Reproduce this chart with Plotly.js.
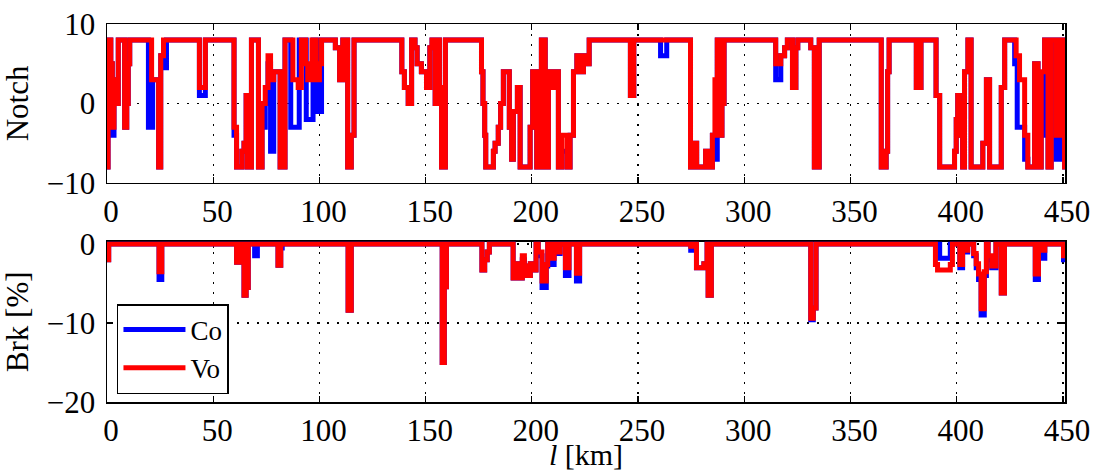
<!DOCTYPE html>
<html>
<head>
<meta charset="utf-8">
<script src="https://cdn.plot.ly/plotly-3.0.1.min.js"></script>
<style>html,body{margin:0;padding:0;background:#fff;}#chart{width:1093px;height:471px;}</style>
</head>
<body>
<div id="chart"></div>
<script>
// ---- Data ----
const seriesNames = ["Co", "Vo"];
const xTicks = [0, 50, 100, 150, 200, 250, 300, 350, 400, 450];

// Notch, Vo (change points, km / notch)
const voNotchKm = [0,0.5,1.8,2.5,3.3,4.3,5.3,8.3,9.3,10,10.7,21,24.3,25.3,26.6,43.5,46.3,59.8,61,63.5,64.5,65.5,66,68,71.3,73,74.5,75.8,77,78.5,81.5,83.8,87.5,90,91.5,93.5,94.5,96.5,98.5,100,101,107.5,109.5,111,113.3,115,116.3,
  138.8,140,141.8,143.4,145,146,148,150.4,152,153,154.5,155.5,156.5,157.5,159.3,176.3,177,177.8,178.3,181.9,182.7,184.2,185.3,186.6,189.4,190.5,191.3,193.2,194.5,199.2,200.4,202.3,204.5,206.3,207.8,209.4,211,212.5,214,216.5,218,219.6,221.2,222.8,224.3,226,227,
  246.4,248,274.7,276,277.6,281.8,283,285,286.2,287.3,288.5,289.5,290.5,314.8,317.2,319,320.3,322.7,324.3,325.2,331.3,333,335.3,
  364.5,366.8,367.5,368.2,381,383.2,390.3,392,399,399.8,400.5,401.3,402,402.8,403.7,405.3,406.8,412.3,414,415.5,421,422.6,428,429.6,432,433.5,436.7,438.3,439.8,441.4,443,444.5,446.9,448.5,450.8,452];
const voNotch = [-8,8,5,-3,3,0,8,-3,0,5,8,3,-8,6,8,2,8,-3,-8,-6,-5,1,-8,8,-8,0,2,6,3,4,-8,8,3,2,8,5,3,8,3,5,8,7,3,8,-8,-4,8,
  4,2,0,8,7,5,4,2,7,8,0,8,2,-8,8,4,0,-4,-8,-6,-5,-3,0,4,-3,-7,-1,2,-8,-3,4,-8,8,-8,4,2,4,-8,-4,-8,-4,4,6,4,6,5,8,
  1,8,-8,-5,-8,-6,-8,-4,3,8,-4,0,8,5,6,7,8,2,7,8,7,-8,8,
  -8,-6,4,8,2,8,1,-8,-6,-2,1,-4,0,-8,4,8,-8,-5,3,-8,2,8,6,3,-4,-8,5,-8,4,8,-8,8,-4,8,-8,-8];

// Notch, Co
const coNotchKm = [0,0.5,1.8,2.5,3.3,4.3,5.3,8.3,9.3,10,10.7,19.5,21.5,24.3,25.3,26.6,28,43.5,46.3,59.8,61,63.5,64.5,65.5,66,68,71.3,73,74.5,75.8,77,78.5,81.5,83.8,86.5,90.5,93.8,97,98.8,101,107.5,109.5,111,113.3,115,116.3,
  138.8,140,141.8,143.4,145,146,148,150.4,152,153,154.5,155.5,156.5,157.5,159.3,176.3,177,177.8,178.3,181.9,182.7,184.2,185.3,186.6,189.4,190.5,191.3,193.2,194.5,199.2,200.4,202.3,204.5,206.3,207.8,209.4,211,212.5,214,216.5,218,219.6,221.2,222.8,224.3,226,227,
  246.4,248,260.6,263.5,274.7,276,277.6,281.8,283,285,286.2,287.3,288.5,289.5,290.5,314.8,317.2,319,320.3,322.7,324.3,325.2,331.3,333,335.3,
  364.5,366.8,367.5,368.2,381,383.2,390.3,392,399,399.8,400.5,401.3,402,402.8,403.7,405.3,406.8,412.3,414,415.5,421,422.6,427.3,428.5,432,433.5,436.7,438.3,439.8,441.4,443,444.5,446.9,448.5,450.8,452];
const coNotch = [-8,8,5,-4,3,0,8,-3,0,5,8,-3,3,-8,6,4.5,8,1,8,-4,-8,-6,-5,1,-8,8,-8,-3,0,5,-6,4,-8,8,-3,8,-2,8,-1,8,7,3,8,-8,-4,8,
  4,2,0,8,7,5,4,2,7,8,0,8,2,-8,8,4,0,-4,-8,-6,-5,-3,0,4,-3,-7,-1,2,-8,-3,4,-8,8,-8,4,2,4,-8,-6,-8,-4,4,6,4,6,5,8,
  1,8,6,8,-8,-5,-8,-6,-8,-4,-7,8,-4,0,8,3,6,7,8,2,7,8,7,-8,8,
  -8,-6,4,8,2,8,1,-8,-6,-2,1,-4,0,-8,4,8,-8,-5,3,-8,2,8,5,-3,-7,-8,5,-8,-4,8,-8,8,-7,8,-8,-8];

// Brake [%], Vo
const voBrkKm = [0,0.8,24.5,25.8,61,62.3,64.5,65.5,66.5,80.5,81.8,113.5,115,157.8,158.8,159.8,176.5,177.8,179,180,
  191.2,193,194,195.5,196.5,197.5,199.3,200.5,202,203,204.8,206.8,207.5,209.2,210.5,212.5,213.3,215.8,217.5,221,222.5,
  274.8,275.8,277.5,281,282.5,283,284.5,331.3,332.5,333.8,390,391,397,398,401.5,402.8,404.5,405.2,
  408,409.2,410.3,411.5,413,414,414.8,416.5,418.5,421,422.5,437,438.5,440.5,441.5,450.3,452];
const voBrk = [-2,0,-3.5,0,-2.3,0,-6.5,-5.5,0,-2.7,0,-8.4,0,-15,-5.4,0,-3.3,-2,-1,0,
  -4.3,-2.5,-4.3,-1.5,-2.8,-4,-2.5,-3.3,0,-1,-4.7,-2.6,0,-1.8,0,-1,0,-3,0,-3.7,0,
  -0.3,0,-3,-2.5,0,-6.5,0,-9.4,-8.1,0,-2.6,-3.3,-2.6,0,-2.6,0,-0.8,0,
  -1.2,-2.5,-3.8,-8.2,-3.5,0,-1.5,-2.8,0,-6.2,0,-3.8,0,-0.8,0,-1.5,-1.5];

// Brake [%], Co
const coBrkKm = [0,0.8,24.5,25.8,61,62.3,63,64.5,65.5,66.5,69.5,70.8,80.5,81.8,82.5,113.5,115,157.8,158.8,159.8,176.5,177.8,179,180,
  191.2,193,194,195.5,196.5,197.5,199.3,200.5,202,203,204.8,206.8,207.5,209.2,210.5,212.5,213.3,215.8,217.5,221,222.5,
  274.8,275.8,277.5,281,282.5,283,284.5,331.3,332.5,333.8,392,397,401.5,402.8,404.5,405.2,
  408,409.2,410.3,411.5,413,414,414.8,416.5,418.5,421,422.5,437,438.5,440.5,441.5,450.3,452];
const coBrk = [-2,0,-4.5,0,-2.3,-1.3,0,-6.5,-5.5,0,-1.5,0,-2.7,-0.5,0,-8.4,0,-15,-5.4,0,-3.3,-2,-1,0,
  -4.3,-2.5,-4.3,-2,-2.8,-4,-2.5,-3.3,0,-1.5,-5.5,-2.8,0,-2.6,0,-1.2,0,-4,0,-4.7,0,
  -0.8,0,-3,-2.5,0,-6.5,0,-9.6,-8.1,0,-1.8,0,-3,0,-1,0,
  -1.5,-3,-4.5,-9,-4,0,-2,-3,0,-6.2,0,-4.5,0,-1.8,0,-2,-2];

// ---- Styling ----
const FONT = "Liberation Serif, Times New Roman, serif";
const FS = 31;
const BLUE = "#0000ff", RED = "#ff0000";
const LW = 5;

function tr(x, y, color, name, xa, ya, showleg) {
  return {
    x: x, y: y, type: "scatter", mode: "lines", name: name,
    legendgroup: name, showlegend: showleg,
    line: {color: color, width: LW, shape: "hv"},
    xaxis: xa, yaxis: ya, hoverinfo: "skip"
  };
}

const data = [
  tr(coNotchKm, coNotch, BLUE, seriesNames[0], "x", "y", false),
  tr(voNotchKm, voNotch, RED, seriesNames[1], "x", "y", false),
  tr(coBrkKm, coBrk, BLUE, seriesNames[0], "x2", "y2", true),
  tr(voBrkKm, voBrk, RED, seriesNames[1], "x2", "y2", true)
];

const common = {
  showline: true, linecolor: "#000", linewidth: 1.5, mirror: "ticks",
  ticks: "inside", ticklen: 6, tickwidth: 1.3, tickcolor: "#000",
  showgrid: true, gridcolor: "#000", gridwidth: 1.3, griddash: "2px,8px",
  zeroline: false, layer: "below traces",
  tickfont: {family: FONT, size: FS, color: "#000"}
};

const xaxisBase = Object.assign({}, common, {
  range: [0, 451], tickmode: "array", tickvals: xTicks, ticktext: xTicks.map(String),
  ticklabelstandoff: 0, ticklabelshift: 4
});

const layout = {
  width: 1093, height: 471,
  margin: {l: 107, r: 28, t: 24, b: 69},
  paper_bgcolor: "#fff", plot_bgcolor: "#fff",
  font: {family: FONT, size: FS, color: "#000"},
  showlegend: true,
  legend: {
    x: 0.0104, y: 0.021, xanchor: "left", yanchor: "bottom",
    bgcolor: "#fff", bordercolor: "#000", borderwidth: 1.5,
    font: {family: FONT, size: 27, color: "#000"},
    itemwidth: 62, tracegroupgap: 0
  },
  xaxis: Object.assign({}, xaxisBase, {anchor: "y", domain: [0, 1]}),
  xaxis2: Object.assign({}, xaxisBase, {anchor: "y2", domain: [0, 1],
    title: {text: "<i>l</i> [km]", font: {family: FONT, size: 30}, standoff: 6}}),
  yaxis: Object.assign({}, common, {
    domain: [0.5794, 1], range: [-10, 10], tickmode: "array", tickvals: [-10, 0, 10],
    ticklabelstandoff: 4,
    title: {text: "Notch", font: {family: FONT, size: FS}, standoff: 10}
  }),
  yaxis2: Object.assign({}, common, {
    domain: [0, 0.4243], range: [-20, 0.3], tickmode: "array", tickvals: [-20, -10, 0],
    ticklabelstandoff: 4,
    title: {text: "Brk [%]", font: {family: FONT, size: FS}, standoff: 10}
  })
};

Plotly.newPlot("chart", data, layout, {displayModeBar: false, staticPlot: true});
</script>
</body>
</html>
